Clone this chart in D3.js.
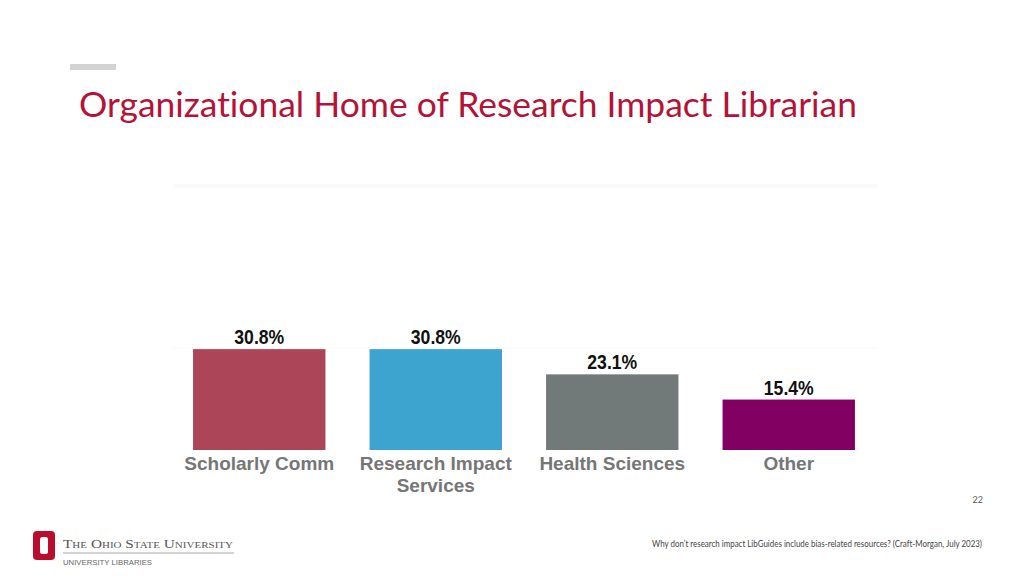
<!DOCTYPE html>
<html><head><meta charset="utf-8">
<script src="https://cdn.jsdelivr.net/npm/d3@7"></script>
<style>html,body{margin:0;padding:0;background:#fff;}svg{display:block;}text{font-variant-ligatures:none;}</style>
</head><body>
<svg id="c" width="1024" height="576"></svg>
<script>
const categories = ["Scholarly Comm", "Research Impact Services", "Health Sciences", "Other"];
const categoryLines = [["Scholarly Comm"], ["Research Impact", "Services"], ["Health Sciences"], ["Other"]];
const values = [30.8, 30.8, 23.1, 15.4];
const valueLabels = ["30.8%", "30.8%", "23.1%", "15.4%"];
const colors = ["#AD4558", "#3DA3CF", "#727979", "#820061"];
const titleText = "Organizational Home of Research Impact Librarian";
const footerText = "Why don\u2019t research impact LibGuides include bias-related resources? (Craft-Morgan, July 2023)";
const pageNumber = "22";

const svg = d3.select("#c");
svg.append("rect").attr("width",1024).attr("height",576).attr("fill","#fff");

// accent bar
svg.append("rect").attr("x",70).attr("y",64).attr("width",46).attr("height",6).attr("fill","#d3d3d3");

// title
svg.append("text").attr("x",79).attr("y",117)
  .attr("font-family","Lato, 'Open Sans', sans-serif").attr("font-size",35)
  .attr("fill","#B51238").attr("textLength",778).attr("lengthAdjust","spacingAndGlyphs")
  .text(titleText);

// faint lines from the pasted chart image
svg.append("line").attr("x1",173).attr("x2",877).attr("y1",185).attr("y2",185).attr("stroke","#f3f3f3");
svg.append("line").attr("x1",173).attr("x2",877).attr("y1",187).attr("y2",187).attr("stroke","#f6f6f6");
svg.append("line").attr("x1",173).attr("x2",877).attr("y1",348).attr("y2",348).attr("stroke","#f6f6f6");

const x = d3.scaleBand().domain(categories).range([171, 877]).paddingInner(0.25).paddingOuter(0.125);
const y = d3.scaleLinear().domain([0, 40]).range([450, 319]);

const g = svg.append("g");
g.selectAll("rect.bar").data(values).join("rect").attr("class","bar")
  .attr("x",(d,i)=>x(categories[i])).attr("width",x.bandwidth())
  .attr("y",d=>y(d)).attr("height",d=>y(0)-y(d))
  .attr("fill",(d,i)=>colors[i]);

// value labels (condensed bold)
g.selectAll("g.vl").data(values).join("g").attr("class","vl")
  .attr("transform",(d,i)=>`translate(${x(categories[i])+x.bandwidth()/2},${y(d)-5}) scale(0.88,1)`)
  .append("text").attr("text-anchor","middle")
  .attr("font-family","'Liberation Sans', Arial, sans-serif").attr("font-weight","bold")
  .attr("font-size",20).attr("fill","#111")
  .text((d,i)=>valueLabels[i]);

// category labels
const cl = g.selectAll("text.cat").data(categories).join("text").attr("class","cat")
  .attr("text-anchor","middle")
  .attr("font-family","'Liberation Sans', Arial, sans-serif").attr("font-weight","bold")
  .attr("font-size",19).attr("fill","#767676");
cl.each(function(d,i){
  const t = d3.select(this);
  categoryLines[i].forEach((ln,j)=>{
    t.append("tspan").attr("x",x(d)+x.bandwidth()/2).attr("y",470+j*22).text(ln);
  });
});

// page number
svg.append("text").attr("x",983).attr("y",503).attr("text-anchor","end")
  .attr("font-family","Lato, 'Open Sans', sans-serif").attr("font-size",9).attr("fill","#595959").text(pageNumber);

// footer
svg.append("text").attr("x",652).attr("y",547)
  .attr("font-family","Lato, 'Open Sans', sans-serif").attr("font-size",8.5).attr("fill","#444")
  .attr("textLength",330).attr("lengthAdjust","spacingAndGlyphs").text(footerText);

// logo block O
const logo = svg.append("g");
logo.append("rect").attr("x",33).attr("y",531).attr("width",22).attr("height",29).attr("rx",4).attr("fill","#BA0C2F");
logo.append("rect").attr("x",40).attr("y",537).attr("width",8).attr("height",17).attr("rx",2.5).attr("fill","#fff");
logo.append("text").attr("x",63).attr("y",548)
  .attr("font-family","'Liberation Serif', 'DejaVu Serif', serif").attr("font-size",12.5)
  .attr("font-variant","small-caps").attr("fill","#555")
  .attr("textLength",170).attr("lengthAdjust","spacingAndGlyphs").text("The Ohio State University");
logo.append("line").attr("x1",63).attr("x2",234).attr("y1",553).attr("y2",553).attr("stroke","#aaa").attr("stroke-width",1);
logo.append("text").attr("x",63).attr("y",565)
  .attr("font-family","'Liberation Sans', Arial, sans-serif").attr("font-size",8).attr("fill","#666")
  .attr("textLength",89).attr("lengthAdjust","spacingAndGlyphs").text("UNIVERSITY LIBRARIES");
</script>
</body></html>
